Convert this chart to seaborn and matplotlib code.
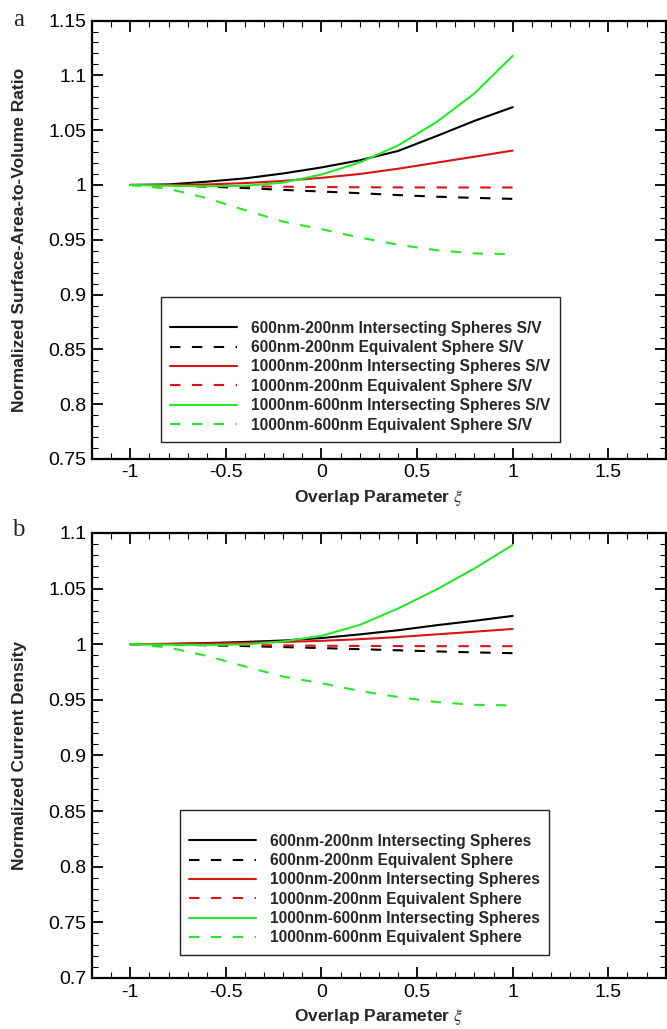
import numpy as np
import pandas as pd
import matplotlib
matplotlib.use("Agg")
import matplotlib.pyplot as plt
from matplotlib.ticker import MultipleLocator, FormatStrFormatter
import seaborn as sns

# ---------------- data ----------------
xi = [-1.0, -0.8, -0.6, -0.4, -0.2, 0.0, 0.2, 0.4, 0.6, 0.8, 1.0]

# panel a: normalized surface-area-to-volume ratio
a_600_200_int = [1.0, 1.0005, 1.003, 1.006, 1.0105, 1.016, 1.0225, 1.031, 1.0445, 1.0585, 1.071]
a_600_200_eq  = [1.0, 0.9995, 0.9985, 0.9972, 0.9955, 0.994, 0.9925, 0.9908, 0.9893, 0.9882, 0.9873]
a_1000_200_int = [1.0, 1.0, 1.0005, 1.0017, 1.0037, 1.0065, 1.0100, 1.0148, 1.0203, 1.0258, 1.0314]
a_1000_200_eq  = [1.0, 0.9998, 0.9993, 0.9988, 0.9984, 0.9981, 0.9979, 0.9978, 0.9977, 0.9977, 0.9977]
a_1000_600_int = [1.0, 0.9993, 0.9988, 0.9992, 1.0022, 1.0095, 1.0205, 1.036, 1.0572, 1.0835, 1.1178]
a_1000_600_eq  = [1.0, 0.9965, 0.988, 0.977, 0.9665, 0.9597, 0.952, 0.9455, 0.9405, 0.9375, 0.9369]

# panel b: normalized current density
b_600_200_int = [1.0, 1.0003, 1.001, 1.002, 1.0033, 1.0055, 1.0088, 1.0125, 1.017, 1.021, 1.0254]
b_600_200_eq  = [1.0, 0.9997, 0.999, 0.9983, 0.9974, 0.9965, 0.9955, 0.9945, 0.9935, 0.9926, 0.9919]
b_1000_200_int = [1.0, 1.0002, 1.0006, 1.0012, 1.002, 1.003, 1.0045, 1.0064, 1.0088, 1.0112, 1.0137]
b_1000_200_eq  = [1.0, 0.9998, 0.9995, 0.9992, 0.9989, 0.9986, 0.9984, 0.9983, 0.9982, 0.9982, 0.9982]
b_1000_600_int = [1.0, 0.9995, 0.9993, 0.9998, 1.0025, 1.0075, 1.0173, 1.032, 1.049, 1.068, 1.0892]
b_1000_600_eq  = [1.0, 0.997, 0.9895, 0.98, 0.9708, 0.9649, 0.958, 0.9525, 0.948, 0.9455, 0.945]

labels_a = ["600nm-200nm Intersecting Spheres S/V",
            "600nm-200nm Equivalent Sphere S/V",
            "1000nm-200nm Intersecting Spheres S/V",
            "1000nm-200nm Equivalent Sphere S/V",
            "1000nm-600nm Intersecting Spheres S/V",
            "1000nm-600nm Equivalent Sphere S/V"]
labels_b = ["600nm-200nm Intersecting Spheres",
            "600nm-200nm Equivalent Sphere",
            "1000nm-200nm Intersecting Spheres",
            "1000nm-200nm Equivalent Sphere",
            "1000nm-600nm Intersecting Spheres",
            "1000nm-600nm Equivalent Sphere"]

series_a = [a_600_200_int, a_600_200_eq, a_1000_200_int, a_1000_200_eq, a_1000_600_int, a_1000_600_eq]
series_b = [b_600_200_int, b_600_200_eq, b_1000_200_int, b_1000_200_eq, b_1000_600_int, b_1000_600_eq]

colors = ["#000000", "#000000", "#d81414", "#d81414", "#2ae62a", "#2ae62a"]
dashed = [False, True, False, True, False, True]

# ---------------- style ----------------
sns.set_style("ticks")
plt.rcParams["font.family"] = ["Liberation Sans", "DejaVu Sans"]
plt.rcParams["axes.unicode_minus"] = False
plt.rcParams["mathtext.fontset"] = "stix"

fig = plt.figure(figsize=(6.67, 10.29), dpi=100)
ax1 = fig.add_axes([0.138, 0.554, 0.860, 0.426])
ax2 = fig.add_axes([0.138, 0.0496, 0.860, 0.4325])

LW = 1.5

def draw(ax, series, labels, ylim, ylabel, leg_anchor, leg_title):
    for vals, lab, col, dsh in zip(series, labels, colors, dashed):
        df = pd.DataFrame({"xi": xi, "val": vals})
        sns.lineplot(data=df, x="xi", y="val", ax=ax, color=col, linewidth=LW,
                     label=lab, dashes=False, sort=False)
        line = ax.get_lines()[-1]
        if dsh:
            line.set_dashes((5, 5.5))
    ax.set_xlim(-1.2, 1.8)
    ax.set_ylim(*ylim)
    ax.xaxis.set_major_locator(MultipleLocator(0.5))
    ax.xaxis.set_minor_locator(MultipleLocator(0.1))
    ax.yaxis.set_major_locator(MultipleLocator(0.05))
    ax.yaxis.set_minor_locator(MultipleLocator(0.01))
    ax.xaxis.set_major_formatter(FormatStrFormatter("%g"))
    ax.yaxis.set_major_formatter(FormatStrFormatter("%g"))
    ax.tick_params(which="both", direction="in", top=True, right=True,
                   colors="black", labelsize=14)
    ax.tick_params(which="major", length=8, width=1.3, pad=4)
    ax.tick_params(which="minor", length=4, width=0.8)
    for s in ax.spines.values():
        s.set_visible(True)
        s.set_linewidth(1.6)
        s.set_color("black")
    ax.set_xlabel(r"Overlap Parameter $\xi$", fontsize=12.5, fontweight="bold", labelpad=5)
    ax.set_ylabel(ylabel, fontsize=12.5, fontweight="bold")
    ax.yaxis.set_label_coords(-0.113, 0.5)
    leg = ax.legend(loc="lower left", bbox_to_anchor=leg_anchor, borderaxespad=0,
                    prop={"weight": "bold", "size": 11.2}, handlelength=4.3,
                    handletextpad=0.9, labelspacing=0.28, frameon=True,
                    fancybox=False, edgecolor="#222222", framealpha=1,
                    borderpad=0.6, title=leg_title, title_fontsize=7)
    leg.get_frame().set_linewidth(1.0)
    for h, dsh in zip(leg.get_lines(), dashed):
        h.set_linewidth(LW)
        if dsh:
            h.set_dashes((5, 5.5))

draw(ax1, series_a, labels_a, (0.75, 1.15),
     "Normalized Surface-Area-to-Volume Ratio", (0.120, 0.039), " ")
draw(ax2, series_b, labels_b, (0.7, 1.1),
     "Normalized Current Density", (0.153, 0.052), " ")

fig.text(0.028, 1 - 20 / 1029, "a", family="Liberation Serif", fontsize=18,
         ha="center", va="center")
fig.text(0.028, 1 - 530 / 1029, "b", family="Liberation Serif", fontsize=18,
         ha="center", va="center")

fig.savefig("out.png", dpi=100)
